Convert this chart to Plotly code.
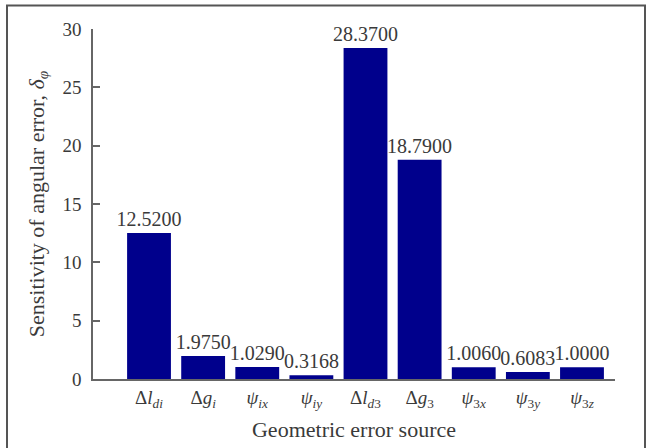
import plotly.graph_objects as go

categories = ["Δl_di", "Δg_i", "ψ_ix", "ψ_iy", "Δl_d3", "Δg_3", "ψ_3x", "ψ_3y", "ψ_3z"]
tick_labels = [
    "Δ<i>l</i><sub><i>di</i></sub>",
    "Δ<i>g</i><sub><i>i</i></sub>",
    "<i>ψ</i><sub><i>ix</i></sub>",
    "<i>ψ</i><sub><i>iy</i></sub>",
    "Δ<i>l</i><sub><i>d</i>3</sub>",
    "Δ<i>g</i><sub>3</sub>",
    "<i>ψ</i><sub>3<i>x</i></sub>",
    "<i>ψ</i><sub>3<i>y</i></sub>",
    "<i>ψ</i><sub>3<i>z</i></sub>",
]
values = [12.52, 1.975, 1.029, 0.3168, 28.37, 18.79, 1.006, 0.6083, 1.0]
value_labels = ["12.5200", "1.9750", "1.0290", "0.3168", "28.3700", "18.7900", "1.0060", "0.6083", "1.0000"]

font_family = "Liberation Serif"
txt_color = "#3a3a3a"
axis_color = "#666666"

x_pos = list(range(len(categories)))

fig = go.Figure(
    go.Bar(
        x=x_pos,
        y=values,
        marker=dict(color="#00008C", line=dict(width=0)),
        width=0.81,
        text=value_labels,
        textposition="outside",
        constraintext="none",
        textfont=dict(family=font_family, size=20, color=txt_color),
        cliponaxis=False,
    )
)

fig.update_layout(
    width=653,
    height=448,
    margin=dict(l=93, r=38, t=29, b=69),
    paper_bgcolor="white",
    plot_bgcolor="white",
    showlegend=False,
    font=dict(family=font_family, color=txt_color),
    xaxis=dict(
        range=[-1.035, 8.61],
        tickmode="array",
        tickvals=x_pos,
        ticktext=tick_labels,
        tickfont=dict(family=font_family, size=19, color=txt_color),
        showline=True,
        linecolor=axis_color,
        linewidth=1.5,
        ticks="",
        showgrid=False,
        zeroline=False,
        automargin=False,
        ticklabelstandoff=0,
        title=dict(text="Geometric error source", font=dict(family=font_family, size=22, color=txt_color), standoff=12),
    ),
    yaxis=dict(
        range=[0, 30],
        dtick=5,
        tick0=0,
        ticks="inside",
        ticklen=7,
        tickcolor=axis_color,
        tickwidth=1.5,
        showline=True,
        linecolor=axis_color,
        linewidth=1.5,
        showgrid=False,
        zeroline=False,
        automargin=False,
        ticklabelstandoff=6,
        tickfont=dict(family=font_family, size=19, color=txt_color),
        title=dict(text="Sensitivity of angular error, <i>δ</i><sub><i>φ</i></sub>",
                   font=dict(family=font_family, size=22, color=txt_color), standoff=12),
    ),
    shapes=[
        dict(type="rect", xref="paper", yref="paper",
             x0=(7 - 93) / 522, x1=(645 - 93) / 522,
             y0=(379 - 455) / 350, y1=(379 - 5.5) / 350,
             line=dict(color="#555555", width=2), fillcolor="rgba(0,0,0,0)", layer="below"),
    ],
)

fig.write_html("out.html")
